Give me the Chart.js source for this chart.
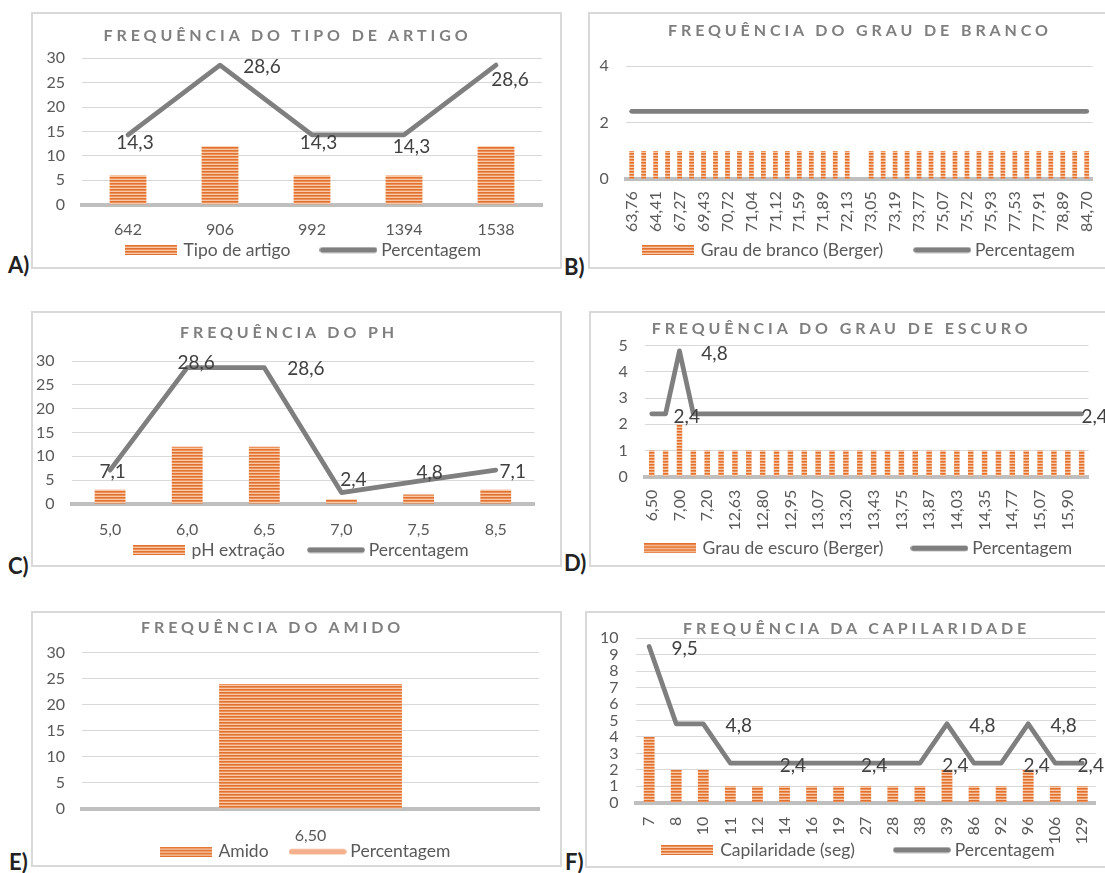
<!DOCTYPE html>
<html lang="pt">
<head>
<meta charset="utf-8">
<title>Frequências</title>
<script src="https://cdn.jsdelivr.net/npm/chart.js@4.4.1/dist/chart.umd.min.js"></script>
<style>
  html, body { margin:0; padding:0; background:#fff; width:1105px; height:873px; overflow:hidden; position:relative; }
  .frame { position:absolute; box-sizing:border-box; border:2px solid #d9d9d9; }
  canvas.plot { position:absolute; }
  .title { position:absolute; font-family:Lato, sans-serif; font-weight:700; font-size:16px; line-height:16px; letter-spacing:3.9px; color:#7f7f7f; white-space:nowrap; }
  .tag { position:absolute; font-family:Lato, sans-serif; font-weight:700; font-size:22px; line-height:22px; color:#222; white-space:nowrap; }
</style>
</head>
<body>
<script>
// ---------- data ----------
const artigoLabels = ['642', '906', '992', '1394', '1538'];
const artigoCounts = [6, 12, 6, 6, 12];
const artigoPct    = [14.3, 28.6, 14.3, 14.3, 28.6];

// every second category name is not printed on the axis
const brancoLabels = ['63,76', '', '64,41', '', '67,27', '', '69,43', '', '70,72', '', '71,04', '', '71,12', '',
                      '71,59', '', '71,89', '', '72,13', '', '73,05', '', '73,19', '', '73,77', '', '75,07', '',
                      '75,72', '', '75,93', '', '77,53', '', '77,91', '', '78,89', '', '84,70'];
const brancoCounts = [1, 1, 1, 1, 1, 1, 1, 1, 1, 1, 1, 1, 1, 1, 1, 1, 1, 1, 1, 0,
                      1, 1, 1, 1, 1, 1, 1, 1, 1, 1, 1, 1, 1, 1, 1, 1, 1, 1, 1];
const brancoPct    = [2.4, 2.4, 2.4, 2.4, 2.4, 2.4, 2.4, 2.4, 2.4, 2.4, 2.4, 2.4, 2.4, 2.4, 2.4, 2.4, 2.4, 2.4, 2.4, 2.4,
                      2.4, 2.4, 2.4, 2.4, 2.4, 2.4, 2.4, 2.4, 2.4, 2.4, 2.4, 2.4, 2.4, 2.4, 2.4, 2.4, 2.4, 2.4, 2.4];

const phLabels = ['5,0', '6,0', '6,5', '7,0', '7,5', '8,5'];
const phCounts = [3, 12, 12, 1, 2, 3];
const phPct    = [7.1, 28.6, 28.6, 2.4, 4.8, 7.1];

const escuroLabels = ['6,50', '', '7,00', '', '7,20', '', '12,63', '', '12,80', '', '12,95', '', '13,07', '', '13,20', '',
                      '13,43', '', '13,75', '', '13,87', '', '14,03', '', '14,35', '', '14,77', '', '15,07', '', '15,90', ''];
const escuroCounts = [1, 1, 2, 1, 1, 1, 1, 1, 1, 1, 1, 1, 1, 1, 1, 1,
                      1, 1, 1, 1, 1, 1, 1, 1, 1, 1, 1, 1, 1, 1, 1, 1];
const escuroPct    = [2.4, 2.4, 4.8, 2.4, 2.4, 2.4, 2.4, 2.4, 2.4, 2.4, 2.4, 2.4, 2.4, 2.4, 2.4, 2.4,
                      2.4, 2.4, 2.4, 2.4, 2.4, 2.4, 2.4, 2.4, 2.4, 2.4, 2.4, 2.4, 2.4, 2.4, 2.4, 2.4];

const amidoLabels = ['6,50'];
const amidoCounts = [24];
const amidoPct    = [];

const capLabels = ['7', '8', '10', '11', '12', '14', '16', '19', '27', '28', '38', '39', '86', '92', '96', '106', '129'];
const capCounts = [4, 2, 2, 1, 1, 1, 1, 1, 1, 1, 1, 2, 1, 1, 2, 1, 1];
const capPct    = [9.5, 4.8, 4.8, 2.4, 2.4, 2.4, 2.4, 2.4, 2.4, 2.4, 2.4, 4.8, 2.4, 2.4, 4.8, 2.4, 2.4];

// ---------- styling helpers ----------
Chart.defaults.font.family = 'Lato, sans-serif';
const TEXT = '#595959';
const GREY_LINE = '#7f7f7f';
const LEGEND_FS = 17.5;
const TICK_FS = 16;

// narrow horizontal stripes used to fill the bars
const stripeTile = document.createElement('canvas');
stripeTile.width = 4; stripeTile.height = 3;
(() => {
  const g = stripeTile.getContext('2d');
  ['#e2702e', '#eb915a', '#f7c9a8'].forEach((c, i) => { g.fillStyle = c; g.fillRect(0, i, 4, 1); });
})();
const stripes = stripeTile.getContext('2d').createPattern(stripeTile, 'repeat');

function barSwatch() {
  const c = document.createElement('canvas');
  c.width = 52; c.height = 10;
  const g = c.getContext('2d');
  g.fillStyle = g.createPattern(stripeTile, 'repeat');
  g.fillRect(0, 0, 52, 10);
  return c;
}
function lineSwatch(color) {
  const c = document.createElement('canvas');
  c.width = 58; c.height = 7;
  const g = c.getContext('2d');
  g.strokeStyle = color; g.lineWidth = 5.5; g.lineCap = 'round';
  g.beginPath(); g.moveTo(3, 3.5); g.lineTo(55, 3.5); g.stroke();
  return c;
}
const fmt = v => v.toFixed(1).replace('.', ',');

// ---------- panel layout (page coordinates) ----------
const panels = [
  { tag: 'A)', title: 'FREQUÊNCIA DO TIPO DE ARTIGO', labels: artigoLabels, counts: artigoCounts, pct: artigoPct,
    barName: 'Tipo de artigo', lineColor: GREY_LINE, yMax: 30, yStep: 5,
    frame: {x: 31, y: 12, w: 531, h: 257}, plot: {l: 82, r: 542, t: 58.3, b: 204.7},
    titleAt: {x: 103.6, cy: 35.5}, legend: {cx: 304, cy: 250, gap: 34}, tagAt: {x: 8, cy: 266},
    xPad: 15.5, rot: 0,
    marks: {idx: [0, 1, 2, 3, 4], off: [[7, 8], [42, 1.5], [6.5, 8], [7.5, 11.5], [14, 14.5]]} },

  { tag: 'B)', title: 'FREQUÊNCIA DO GRAU DE BRANCO', labels: brancoLabels, counts: brancoCounts, pct: brancoPct,
    barName: 'Grau de branco (Berger)', lineColor: GREY_LINE, yMax: 4, yStep: 2,
    frame: {x: 588, y: 12, w: 531, h: 257}, plot: {l: 625.7, r: 1092.7, t: 66, b: 179.3},
    titleAt: {x: 668, cy: 30}, legend: {cx: 859.4, cy: 250, gap: 35}, tagAt: {x: 564, cy: 267.5},
    xPad: 12, rot: 90, marks: {idx: [], off: []} },

  { tag: 'C)', title: 'FREQUÊNCIA DO PH', labels: phLabels, counts: phCounts, pct: phPct,
    barName: 'pH extração', lineColor: GREY_LINE, yMax: 30, yStep: 5,
    frame: {x: 31, y: 311, w: 531, h: 256}, plot: {l: 71.5, r: 534.3, t: 361, b: 504},
    titleAt: {x: 180, cy: 332.5}, legend: {cx: 301.8, cy: 550, gap: 27}, tagAt: {x: 8, cy: 567},
    xPad: 16, rot: 0,
    marks: {idx: [0, 1, 2, 3, 4, 5], off: [[2.5, 1.5], [9, -5], [41.5, 1.5], [12, -12.5], [11, -8.5], [17, 1.5]]} },

  { tag: 'D)', title: 'FREQUÊNCIA DO GRAU DE ESCURO', labels: escuroLabels, counts: escuroCounts, pct: escuroPct,
    barName: 'Grau de escuro (Berger)', lineColor: GREY_LINE, yMax: 5, yStep: 1,
    frame: {x: 589, y: 311, w: 531, h: 256}, plot: {l: 644.8, r: 1088.6, t: 345.7, b: 476.7},
    titleAt: {x: 651.7, cy: 328}, legend: {cx: 859, cy: 548.3, gap: 32}, tagAt: {x: 564, cy: 564},
    xPad: 13, rot: 90,
    marks: {idx: [0, 2, 31], off: [[35, 3.5], [35, 3], [13, 3.5]]} },

  { tag: 'E)', title: 'FREQUÊNCIA DO AMIDO', labels: amidoLabels, counts: amidoCounts, pct: amidoPct,
    barName: 'Amido', lineColor: '#f4b08c', yMax: 30, yStep: 5,
    frame: {x: 31, y: 611, w: 531, h: 256}, plot: {l: 82, r: 539, t: 652.7, b: 809},
    titleAt: {x: 141, cy: 627.5}, legend: {cx: 306, cy: 851.7, gap: 25}, tagAt: {x: 9, cy: 862.5},
    xPad: 17, rot: 0, marks: {idx: [], off: []} },

  { tag: 'F)', title: 'FREQUÊNCIA DA CAPILARIDADE', labels: capLabels, counts: capCounts, pct: capPct,
    barName: 'Capilaridade (seg)', lineColor: GREY_LINE, yMax: 10, yStep: 1,
    frame: {x: 585, y: 611, w: 531, h: 257}, plot: {l: 635.6, r: 1100.4, t: 638.3, b: 802.7},
    titleAt: {x: 683, cy: 628}, legend: {cx: 859, cy: 850, gap: 43}, tagAt: {x: 565, cy: 862.5},
    xPad: 14, rot: 90,
    marks: {idx: [0, 2, 4, 7, 10, 11, 13, 14, 15], off: [[35.5, 2.5], [35.5, 2.5], [35.5, 2.5], [35.5, 2.5], [35.5, 2.5],
                                                          [35.5, 2.5], [35.5, 2.5], [35.5, 2.5], [35.5, 2.5]]} }
];

function addDiv(cls, text, left, top) {
  const d = document.createElement('div');
  d.className = cls;
  d.textContent = text;
  d.style.left = left + 'px';
  d.style.top = top + 'px';
  document.body.appendChild(d);
  return d;
}

panels.forEach(p => {
  const F = p.frame;
  const frame = document.createElement('div');
  frame.className = 'frame';
  Object.assign(frame.style, {left: F.x + 'px', top: F.y + 'px', width: F.w + 'px', height: F.h + 'px'});
  document.body.appendChild(frame);

  const cv = document.createElement('canvas');
  cv.className = 'plot';
  cv.width = F.w; cv.height = F.h;
  Object.assign(cv.style, {left: F.x + 'px', top: F.y + 'px', width: F.w + 'px', height: F.h + 'px'});
  document.body.appendChild(cv);

  addDiv('title', p.title, p.titleAt.x, p.titleAt.cy - 8.4);
  addDiv('tag', p.tag, p.tagAt.x, p.tagAt.cy - 11.6);

  const yAxisW = p.plot.l - F.x;
  const padTop = p.plot.t - F.y;
  const padRight = F.x + F.w - p.plot.r;
  const xAxisH = F.h - 1 - (p.plot.b - F.y);

  // data values printed beside the percentage line
  const valueLabels = {
    id: 'valueLabels',
    afterDatasetsDraw(chart) {
      const meta = chart.getDatasetMeta(1);
      const vals = chart.data.datasets[1].data;
      const ctx = chart.ctx;
      ctx.save();
      ctx.font = '19px Lato, sans-serif';
      ctx.fillStyle = '#404040';
      ctx.textAlign = 'center';
      ctx.textBaseline = 'middle';
      p.marks.idx.forEach((i, k) => {
        const pt = meta.data[i];
        if (!pt) return;
        ctx.fillText(fmt(vals[i]), pt.x + p.marks.off[k][0], pt.y + p.marks.off[k][1]);
      });
      ctx.restore();
    }
  };

  // legend row placed under the category labels
  const placeLegend = {
    id: 'placeLegend',
    afterLayout(chart) {
      const lg = chart.legend;
      const top = (p.legend.cy - F.y) - p.legend.gap - LEGEND_FS / 2;
      lg.top = top;
      lg.height = 2 * p.legend.gap + LEGEND_FS + 6;
      lg.bottom = top + lg.height;
      const dx = (p.legend.cx - F.x) - (lg.left + lg.right) / 2;
      lg.left += dx; lg.right += dx;
    }
  };

  const swatches = [barSwatch(), lineSwatch(p.lineColor)];

  new Chart(cv, {
    type: 'bar',
    data: {
      labels: p.labels,
      datasets: [
        { type: 'bar', label: p.barName, data: p.counts, backgroundColor: stripes,
          barPercentage: 0.4, categoryPercentage: 1, order: 1 },
        { type: 'line', label: 'Percentagem', data: p.pct, borderColor: p.lineColor, borderWidth: 4.75,
          pointRadius: 0, borderCapStyle: 'round', borderJoinStyle: 'round', tension: 0, fill: false, order: 0 }
      ]
    },
    options: {
      responsive: false, animation: false, devicePixelRatio: 1,
      layout: { padding: { left: 0, top: padTop, right: padRight, bottom: 0 } },
      plugins: {
        tooltip: { enabled: false },
        title: { display: false },
        legend: {
          position: 'bottom', maxHeight: 1,
          labels: {
            usePointStyle: true, pointStyleWidth: 48, padding: p.legend.gap, color: TEXT,
            font: { size: LEGEND_FS, family: 'Lato, sans-serif' },
            generateLabels: chart => chart.data.datasets.map((ds, i) => ({
              text: ds.label, datasetIndex: i, pointStyle: swatches[i], hidden: false,
              fillStyle: 'rgba(0,0,0,0)', strokeStyle: 'rgba(0,0,0,0)', lineWidth: 0, fontColor: TEXT
            }))
          }
        }
      },
      scales: {
        x: {
          grid: { display: false, drawTicks: false },
          border: { display: true, color: '#bfbfbf', width: 4 },
          ticks: { color: TEXT, font: { size: TICK_FS }, padding: p.xPad, autoSkip: false,
                   minRotation: p.rot, maxRotation: p.rot },
          afterFit(s) { s.height = xAxisH; }
        },
        y: {
          min: 0, max: p.yMax,
          grid: { color: '#d9d9d9', lineWidth: 1, drawTicks: false },
          border: { display: false },
          ticks: { stepSize: p.yStep, color: TEXT, font: { size: TICK_FS }, padding: 17, autoSkip: false },
          afterFit(s) { s.width = yAxisW; }
        }
      }
    },
    plugins: [valueLabels, placeLegend]
  });
});
</script>
</body>
</html>
